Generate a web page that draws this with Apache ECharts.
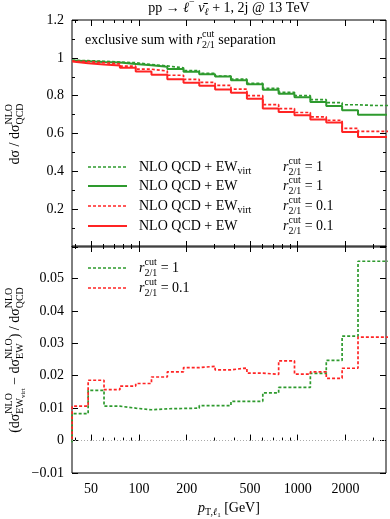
<!DOCTYPE html>
<html>
<head>
<meta charset="utf-8">
<script src="https://cdn.jsdelivr.net/npm/echarts@6/dist/echarts.min.js"></script>
<style>html,body{margin:0;padding:0;background:#fff}#c{width:390px;height:519px}</style>
</head>
<body>
<div id="c"></div>
<script>
// ---- data ----
const binEdges = [38, 47.9, 60.3, 75.9, 95.5, 120, 151, 191, 240, 302, 380, 479, 603, 759, 955, 1202, 1514, 1905, 2399, 3020, 3802];
const qcdEWvirt_r1  = [0.987, 0.985, 0.982, 0.978, 0.974, 0.965, 0.957, 0.947, 0.933, 0.918, 0.904, 0.887, 0.865, 0.839, 0.818, 0.800, 0.779, 0.763, 0.752, 0.748];
const qcdEW_r1      = [0.986, 0.982, 0.978, 0.975, 0.968, 0.961, 0.953, 0.941, 0.927, 0.913, 0.901, 0.882, 0.860, 0.831, 0.810, 0.791, 0.767, 0.746, 0.723, 0.699];
const qcdEWvirt_r01 = [0.983, 0.980, 0.974, 0.968, 0.956, 0.940, 0.930, 0.908, 0.886, 0.870, 0.854, 0.835, 0.800, 0.753, 0.732, 0.711, 0.688, 0.670, 0.627, 0.611];
const qcdEW_r01     = [0.981, 0.971, 0.965, 0.960, 0.947, 0.928, 0.910, 0.887, 0.868, 0.853, 0.833, 0.816, 0.784, 0.732, 0.714, 0.696, 0.674, 0.658, 0.608, 0.582];
const diff_r1  = [-0.0005, 0.0083, 0.0155, 0.0106, 0.0100, 0.0095, 0.0098, 0.0099, 0.0100, 0.0108, 0.0108, 0.0121, 0.0121, 0.0147, 0.0164, 0.0164, 0.0207, 0.0247, 0.0322, 0.0553];
const diff_r01 = [0.0004, 0.0106, 0.0186, 0.0157, 0.0168, 0.0176, 0.0196, 0.0212, 0.0225, 0.0229, 0.0218, 0.0224, 0.0208, 0.0204, 0.0246, 0.0205, 0.0212, 0.0192, 0.0223, 0.0319];
const xMajorTicks = [50, 100, 200, 500, 1000, 2000];
const xMinorTicks = [40, 60, 70, 80, 90, 300, 400, 600, 700, 800, 900, 3000];

// ---- helpers ----
const FONT = '"Liberation Serif", "DejaVu Serif", serif';
const GREEN = '#2e9a2e', RED = '#ff2424';
const cvs = document.createElement('canvas').getContext('2d');
function tw(s, size, it) { cvs.font = (it ? 'italic ' : '') + size + 'px ' + FONT; return cvs.measureText(s).width; }
function layout(parts, x0, y0) {
  let x = x0; const kids = [];
  for (const p of parts) {
    if (p.sup || p.sub) {
      const a = p.sup ? layout(p.sup, x, y0 + (p.supDy !== undefined ? p.supDy : -5)) : {kids: [], w: 0};
      const b = p.sub ? layout(p.sub, x, y0 + (p.subDy !== undefined ? p.subDy : 5)) : {kids: [], w: 0};
      kids.push(...a.kids, ...b.kids); x += Math.max(a.w, b.w);
    } else {
      const s = p.s || 14;
      kids.push({type: 'text', x: x, y: y0 + (p.dy || 0), silent: true,
        style: {text: p.t, font: (p.it ? 'italic ' : '') + s + 'px ' + FONT, fill: '#000', align: 'left', verticalAlign: 'middle'}});
      x += tw(p.t, s, p.it);
    }
  }
  return {kids, w: x - x0};
}
function mtext(parts, x, y, opts) {
  opts = opts || {};
  const probe = layout(parts, 0, 0);
  const x0 = opts.center ? -probe.w / 2 : 0;
  const l = layout(parts, x0, 0);
  return {type: 'group', x: x, y: y, rotation: opts.rot || 0, children: l.kids, silent: true};
}
const rcut = [{t: 'r', it: 1}, {sup: [{t: 'cut', s: 10}], sub: [{t: '2/1', s: 10}], supDy: -6, subDy: 5}];
const nlo = (sub) => ({sup: [{t: 'NLO', s: 10}], sub: sub, supDy: -6, subDy: 5});

function stepData(vals) {
  return binEdges.map((e, i) => [e, vals[Math.min(i, vals.length - 1)]]);
}
function stepSeries(name, vals, color, dashed, xi, yi, extra) {
  return Object.assign({
    name, type: 'line', step: 'start', data: stepData(vals), xAxisIndex: xi, yAxisIndex: yi,
    symbol: 'none', clip: true, silent: true,
    lineStyle: {color, width: dashed ? 1.7 : 2, type: dashed ? [3, 2] : 'solid'}
  }, extra || {});
}

const L = 72, R = 4;
const xBase = {type: 'log', logBase: 10, min: 37.9, max: 3600, splitLine: {show: false}, axisLine: {show: false}};
function xAx(grid, pos, major, labels) {
  return Object.assign({}, xBase, {
    gridIndex: grid, position: pos,
    axisTick: {show: true, inside: true, length: major ? 6 : 3, customValues: major ? xMajorTicks : xMinorTicks, lineStyle: {color: '#000', width: 1}},
    axisLabel: labels ? {show: true, customValues: xMajorTicks, fontFamily: FONT, fontSize: 14, color: '#000', margin: 9,
      formatter: v => String(Math.round(v))} : {show: false}
  });
}
function yAx(grid, pos, labels, min, max, interval, minor) {
  return {
    type: 'value', gridIndex: grid, position: pos, min, max, interval,
    splitLine: {show: false}, axisLine: {show: false},
    axisTick: {show: true, inside: true, length: 6, lineStyle: {color: '#000'}},
    minorTick: minor ? {show: true, splitNumber: 2, length: 3, lineStyle: {color: '#000'}} : {show: false},
    axisLabel: labels ? {show: true, fontFamily: FONT, fontSize: 14, color: '#000', margin: 8,
      showMinLabel: grid === 0 ? false : true, showMaxLabel: grid === 1 ? false : true,
      formatter: v => String(Math.round(v * 1000) / 1000).replace('-', '\u2212')} : {show: false}
  };
}

const option = {
  animation: false,
  backgroundColor: '#fff',
  grid: [
    {left: L, right: R, top: 20, height: 227, show: true, borderColor: '#000', borderWidth: 1, backgroundColor: 'transparent'},
    {left: L, right: R, top: 246, height: 227, show: true, borderColor: '#000', borderWidth: 1, backgroundColor: 'transparent'}
  ],
  xAxis: [
    xAx(0, 'bottom', true, false), xAx(0, 'bottom', false, false), xAx(0, 'top', true, false), xAx(0, 'top', false, false),
    xAx(1, 'bottom', true, true), xAx(1, 'bottom', false, false), xAx(1, 'top', true, false), xAx(1, 'top', false, false)
  ],
  yAxis: [
    yAx(0, 'left', true, 0, 1.2, 0.2, true), yAx(0, 'right', false, 0, 1.2, 0.2, true),
    yAx(1, 'left', true, -0.01, 0.06, 0.01, false), yAx(1, 'right', false, -0.01, 0.06, 0.01, false)
  ],
  series: [
    stepSeries('QCD+EWvirt r1', qcdEWvirt_r1, GREEN, true, 0, 0),
    stepSeries('QCD+EW r1', qcdEW_r1, GREEN, false, 0, 0),
    stepSeries('QCD+EWvirt r01', qcdEWvirt_r01, RED, true, 0, 0),
    stepSeries('QCD+EW r01', qcdEW_r01, RED, false, 0, 0),
    stepSeries('diff r1', diff_r1, GREEN, true, 4, 2, {
      markLine: {silent: true, symbol: 'none', label: {show: false}, data: [{yAxis: 0}],
        lineStyle: {color: '#aaa', type: [1, 2], width: 1}}
    }),
    stepSeries('diff r01', diff_r01, RED, true, 4, 2)
  ],
  graphic: []
};

const g = option.graphic;
// title
g.push(mtext([{t: 'pp \u2192 '}, {t: '\u2113', it: 1}, {sup: [{t: '\u2212', s: 10}], supDy: -6}, {t: ' '}, {t: '\u03BD\u0304', it: 1},
  {sub: [{t: '\u2113', s: 10, it: 1}], subDy: 4}, {t: ' + 1, 2j @ 13 TeV'}], 229, 8, {center: true}));
// annotation
g.push(mtext([{t: 'exclusive sum with '}, ...rcut, {t: ' separation'}], 85, 40));
// top legend
const legTop = [
  {c: GREEN, d: true, virt: true, r: ' = 1', y: 167},
  {c: GREEN, d: false, virt: false, r: ' = 1', y: 186},
  {c: RED, d: true, virt: true, r: ' = 0.1', y: 206},
  {c: RED, d: false, virt: false, r: ' = 0.1', y: 226}
];
legTop.forEach(e => {
  g.push({type: 'line', silent: true, shape: {x1: 88, y1: e.y, x2: 127, y2: e.y},
    style: {stroke: e.c, lineWidth: e.d ? 1.7 : 2, lineDash: e.d ? [3, 2] : null}});
  const parts = [{t: 'NLO QCD + EW'}];
  if (e.virt) parts.push({sub: [{t: 'virt', s: 10}], subDy: 4});
  g.push(mtext(parts, 139, e.y));
  g.push(mtext([...rcut, {t: e.r}], 283, e.y));
});
// bottom legend
[{c: GREEN, r: ' = 1', y: 268}, {c: RED, r: ' = 0.1', y: 288}].forEach(e => {
  g.push({type: 'line', silent: true, shape: {x1: 88, y1: e.y, x2: 127, y2: e.y},
    style: {stroke: e.c, lineWidth: 1.7, lineDash: [3, 2]}});
  g.push(mtext([...rcut, {t: e.r}], 139, e.y));
});
// y titles
g.push(mtext([{t: 'd\u03C3 / d\u03C3'}, nlo([{t: 'QCD', s: 10}])], 15, 134, {center: true, rot: Math.PI / 2}));
g.push(mtext([{t: '(d\u03C3'}, nlo([{t: 'EW', s: 10}, {t: 'virt', s: 7, dy: 3}]), {t: ' \u2212 d\u03C3'}, nlo([{t: 'EW', s: 10}]),
  {t: ') / d\u03C3'}, nlo([{t: 'QCD', s: 10}])], 15, 360, {center: true, rot: Math.PI / 2}));
// x title
g.push(mtext([{t: 'p', it: 1}, {sub: [{t: 'T,', s: 10}, {t: '\u2113', s: 10, it: 1}, {t: '1', s: 7, dy: 3}], subDy: 4}, {t: ' [GeV]'}], 229, 508, {center: true}));

const chart = echarts.init(document.getElementById('c'), null, {renderer: 'canvas'});
chart.setOption(option);
</script>
</body>
</html>
